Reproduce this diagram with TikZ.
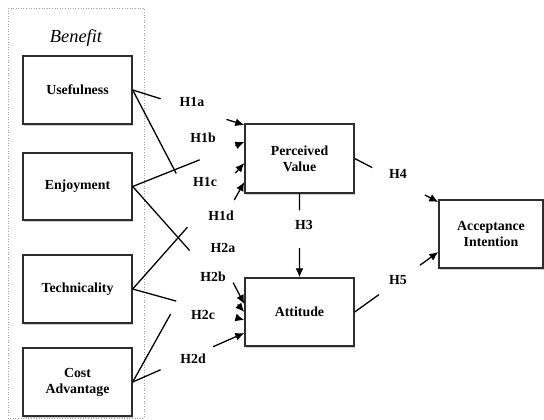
\documentclass[tikz,border=0pt]{standalone}
\usepackage{fontspec}
\setmainfont{Liberation Serif}
\usetikzlibrary{arrows.meta,calc,shadows}
\definecolor{Borde}{RGB}{45,45,45}
\definecolor{Marco}{RGB}{160,160,160}

\begin{document}
\begin{tikzpicture}[x=1bp,y=-1bp,
   caja/.style={draw=Borde,line width=1.4bp,fill=white,minimum width=109bp,minimum height=68bp,
      align=center,font=\fontsize{13.9}{16}\selectfont\bfseries,
      drop shadow={shadow xshift=0.8bp,shadow yshift=-1.5bp,opacity=0.4}},
   hip/.style={font=\fontsize{13.9}{16}\selectfont\bfseries},
   linea/.style={line width=1.3bp,black},
   flecha/.style={linea,-{Latex[length=9bp,width=8bp]}}]
   	\useasboundingbox (0,0) rectangle (544,419);

   	%Marco punteado de los beneficios
   	\draw[Marco,dotted,line width=0.6bp] (8,8) rectangle (144,418);
   	\node (benefit) at (76,38) {\fontsize{18.5}{20}\selectfont\itshape Benefit};

   	%Cajas de la izquierda
   	\node[caja] (use) at (77.5,90) {Usefulness};
   	\node[caja,minimum height=67bp] (enj) at (77.5,186.5) {Enjoyment};
   	\node[caja] (tec) at (77.5,289) {Technicality};
   	\node[caja] (cost) at (77.5,382) {Cost\\Advantage};

   	%Cajas del centro y de la derecha
   	\node[caja,minimum height=69bp] (pv) at (299.5,158.5) {Perceived\\Value};
   	\node[caja] (att) at (299.5,312) {Attitude};
   	\node[caja,minimum width=104bp] (ai) at (491,234) {Acceptance\\Intention};

   	%Puntos de llegada de las flechas
   	\coordinate (pva) at ($(pv.west)+(0,-33.5)$);
   	\coordinate (pvb) at ($(pv.west)+(0,-16.5)$);
   	\coordinate (pvc) at ($(pv.west)+(0,4.5)$);
   	\coordinate (pvd) at ($(pv.west)+(0,23.5)$);
   	\coordinate (atta) at ($(att.west)+(0,-8)$);
   	\coordinate (attb) at ($(att.west)+(0,0)$);
   	\coordinate (attc) at ($(att.west)+(0,8)$);
   	\coordinate (attd) at ($(att.west)+(0,21)$);
   	\coordinate (aia) at ($(ai.west)+(0,-32)$);
   	\coordinate (aib) at ($(ai.west)+(0,18)$);

   	%H1a
   	\draw[linea] (use.east) -- ($(use.east)!0.25!(pva)$);
   	\draw[flecha] ($(use.east)!0.84!(pva)$) -- (pva);
   	\node[hip] (h1a) at (192,102) {H1a};
   	%H1b
   	\draw[linea] (enj.east) -- ($(enj.east)!0.6!(pvb)$);
   	\draw[flecha] ($(enj.east)!0.92!(pvb)$) -- (pvb);
   	\node[hip] (h1b) at (203,138) {H1b};
   	%H1c
   	\draw[linea] (tec.east) -- ($(tec.east)!0.49!(pvc)$);
   	\draw[flecha] ($(tec.east)!0.92!(pvc)$) -- (pvc);
   	\node[hip] (h1c) at (205,182) {H1c};
   	%H1d
   	\draw[linea] (cost.east) -- ($(cost.east)!0.34!(pvd)$);
   	\draw[flecha] ($(cost.east)!0.91!(pvd)$) -- (pvd);
   	\node[hip] (h1d) at (221,216) {H1d};

   	%H2a
   	\draw[linea] (use.east) -- ($(use.east)!0.39!(atta)$);
   	\draw[flecha] ($(use.east)!0.9!(atta)$) -- (atta);
   	\node[hip] (h2a) at (223,248) {H2a};
   	%H2b
   	\draw[linea] (enj.east) -- ($(enj.east)!0.51!(attb)$);
   	\draw[flecha] ($(enj.east)!0.94!(attb)$) -- (attb);
   	\node[hip] (h2b) at (213,277) {H2b};
   	%H2c
   	\draw[linea] (tec.east) -- ($(tec.east)!0.39!(attc)$);
   	\draw[flecha] ($(tec.east)!0.93!(attc)$) -- (attc);
   	\node[hip] (h2c) at (203,315) {H2c};
   	%H2d
   	\draw[linea] (cost.east) -- ($(cost.east)!0.25!(attd)$);
   	\draw[flecha] ($(cost.east)!0.72!(attd)$) -- (attd);
   	\node[hip] (h2d) at (193,359) {H2d};

   	%H3
   	\draw[linea] (pv.south) -- ($(pv.south)!0.2!(att.north)$);
   	\draw[flecha] ($(pv.south)!0.65!(att.north)$) -- (att.north);
   	\node[hip] (h3) at (304,225) {H3};

   	%H4 y H5
   	\draw[linea] (pv.east) -- ($(pv.east)!0.21!(aia)$);
   	\draw[flecha] ($(pv.east)!0.84!(aia)$) -- (aia);
   	\node[hip] (h4) at (398,174) {H4};
   	\draw[linea] (att.east) -- ($(att.east)!0.29!(aib)$);
   	\draw[flecha] ($(att.east)!0.78!(aib)$) -- (aib);
   	\node[hip] (h5) at (398,280) {H5};
\end{tikzpicture}
\end{document}
